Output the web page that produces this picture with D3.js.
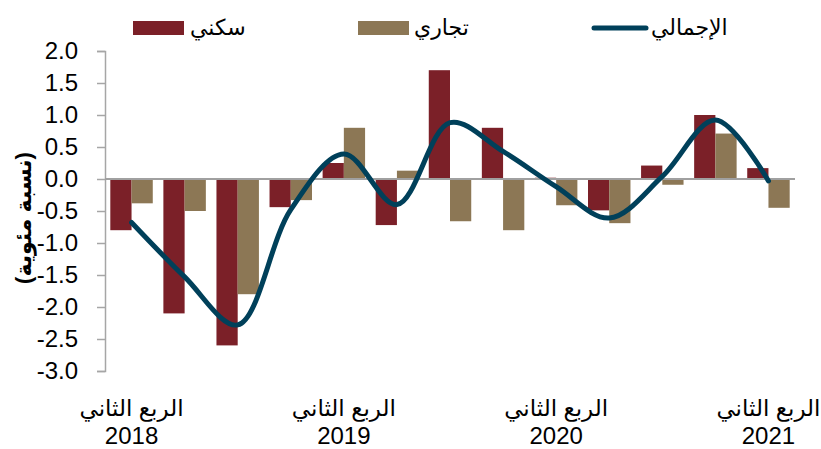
<!DOCTYPE html>
<html lang="ar">
<head>
<meta charset="UTF-8">
<title>residential commercial total</title>
<script src="https://cdn.jsdelivr.net/npm/d3@7/dist/d3.min.js"></script>
<style>
  body { margin: 0; background: #fff; }
  text { font-family: "Liberation Sans", Arial, "DejaVu Sans", sans-serif; }
</style>
</head>
<body>
<svg id="chart" width="821" height="449"></svg>
<script>
// quarters Q2 2018 .. Q2 2021
var quarters = ["2018Q2","2018Q3","2018Q4","2019Q1","2019Q2","2019Q3","2019Q4",
                "2020Q1","2020Q2","2020Q3","2020Q4","2021Q1","2021Q2"];
var residential = [-0.8, -2.1, -2.6, -0.44, 0.25, -0.72, 1.7, 0.8, 0.02, -0.49, 0.21, 1.0, 0.17];
var commercial  = [-0.38, -0.5, -1.8, -0.33, 0.8, 0.13, -0.66, -0.8, -0.41, -0.69, -0.09, 0.71, -0.45];
var total       = [-0.68, -1.53, -2.28, -0.48, 0.39, -0.4, 0.88, 0.43, -0.12, -0.61, 0.04, 0.92, -0.03];
var yTicks = [2.0, 1.5, 1.0, 0.5, 0.0, -0.5, -1.0, -1.5, -2.0, -2.5, -3.0];
var xLabelQuarters = ["2018Q2","2019Q2","2020Q2","2021Q2"];
var xLabelYears = ["2018","2019","2020","2021"];
var seriesNames = ["سكني", "تجاري", "الإجمالي"];

var RED = "#7b2028", TAN = "#8c7755", LINE = "#00405a";

var svg = d3.select("#chart");

var x0 = d3.scaleBand()
  .domain(quarters)
  .range([105, 795])
  .paddingInner(0.2)
  .paddingOuter(0.1);
var x1 = d3.scaleBand()
  .domain(["res", "com"])
  .range([0, x0.bandwidth()]);
var y = d3.scaleLinear()
  .domain([-3, 2])
  .range([371, 51]);

// y axis
var yAxis = svg.append("g")
  .attr("transform", "translate(105,0)")
  .call(d3.axisLeft(y).tickValues(yTicks).tickSize(8).tickPadding(19)
    .tickFormat(function(d){ return d.toFixed(1); }));
yAxis.select(".domain").attr("stroke", "#a6a6a6").attr("stroke-width", 1.5);
yAxis.selectAll(".tick line").attr("stroke", "#a6a6a6").attr("stroke-width", 1.5);
yAxis.selectAll(".tick text")
  .attr("fill", "#000")
  .style("font-size", "24px");

// y title
svg.append("text")
  .attr("transform", "translate(31,218) rotate(-90)")
  .attr("text-anchor", "middle")
  .style("font-size", "22px")
  .style("font-weight", "bold")
  .text("(نسبة مئوية)");

// bars
var groups = svg.append("g").selectAll("g")
  .data(quarters)
  .enter()
  .append("g")
  .attr("transform", function(d){ return "translate(" + x0(d) + ",0)"; });

groups.append("rect")
  .attr("x", x1("res"))
  .attr("width", x1.bandwidth())
  .attr("y", function(d, i){ return y(Math.max(0, residential[i])); })
  .attr("height", function(d, i){ return Math.abs(y(residential[i]) - y(0)); })
  .attr("fill", RED);

groups.append("rect")
  .attr("x", x1("com"))
  .attr("width", x1.bandwidth())
  .attr("y", function(d, i){ return y(Math.max(0, commercial[i])); })
  .attr("height", function(d, i){ return Math.abs(y(commercial[i]) - y(0)); })
  .attr("fill", TAN);

// zero line
svg.append("line")
  .attr("x1", 105).attr("x2", 795)
  .attr("y1", y(0)).attr("y2", y(0))
  .attr("stroke", "#a0a0a0")
  .attr("stroke-width", 2);

// total line
var line = d3.line()
  .x(function(d, i){ return x0(quarters[i]) + x0.bandwidth() / 2; })
  .y(function(d){ return y(d); })
  .curve(d3.curveCatmullRom.alpha(0.5));

svg.append("path")
  .datum(total)
  .attr("d", line)
  .attr("fill", "none")
  .attr("stroke", LINE)
  .attr("stroke-width", 5)
  .attr("stroke-linecap", "round");

// x labels
var xl = svg.append("g").selectAll("g")
  .data(xLabelQuarters)
  .enter()
  .append("g")
  .attr("transform", function(d){ return "translate(" + (x0(d) + x0.bandwidth() / 2) + ",0)"; });
xl.append("text")
  .attr("y", 416)
  .attr("text-anchor", "middle")
  .style("font-size", "23px")
  .text("الربع الثاني");
xl.append("text")
  .attr("y", 444)
  .attr("text-anchor", "middle")
  .style("font-size", "24px")
  .text(function(d, i){ return xLabelYears[i]; });

// legend
var legend = svg.append("g");
legend.append("rect").attr("x", 133).attr("y", 21).attr("width", 51).attr("height", 14).attr("fill", RED);
legend.append("text").attr("x", 190).attr("y", 35).style("font-size", "22px").attr("text-anchor", "start").attr("direction", "ltr").text(seriesNames[0]);
legend.append("rect").attr("x", 358).attr("y", 21).attr("width", 51).attr("height", 14).attr("fill", TAN);
legend.append("text").attr("x", 414).attr("y", 35).style("font-size", "22px").attr("text-anchor", "start").attr("direction", "ltr").text(seriesNames[1]);
legend.append("line").attr("x1", 594).attr("x2", 646).attr("y1", 28).attr("y2", 28)
  .attr("stroke", LINE).attr("stroke-width", 5).attr("stroke-linecap", "round");
legend.append("text").attr("x", 651).attr("y", 35).style("font-size", "22px").attr("text-anchor", "start").attr("direction", "ltr").text(seriesNames[2]);
</script>
</body>
</html>
